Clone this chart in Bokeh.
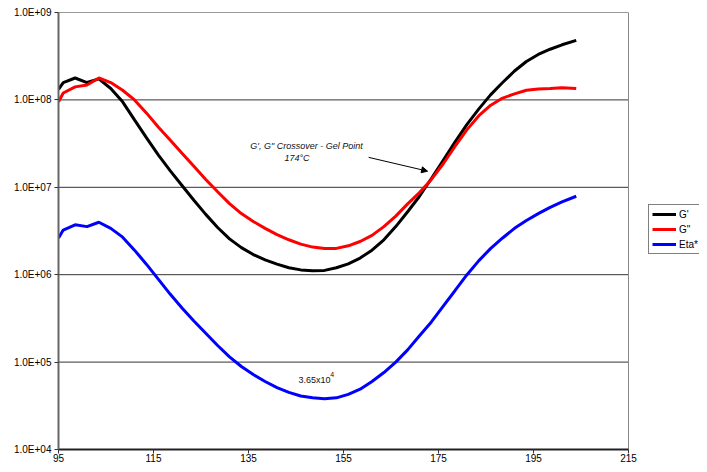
from bokeh.plotting import figure
from bokeh.models import (FixedTicker, CustomJSTickFormatter, Legend, LegendItem,
                          Label, Arrow, NormalHead, ColumnDataSource)
from bokeh.embed import file_html
from bokeh.resources import INLINE

temperature = [95, 96, 98.5, 101, 103.5, 106, 108.5, 111, 113.5, 116, 118.5, 121, 123.5,
               126, 128.5, 131, 133.5, 136, 138.5, 141, 143.5, 146, 148.5, 151, 153.5,
               156, 158.5, 161, 163.5, 166, 168.5, 171, 173.5, 176, 178.5, 181, 183.5,
               186, 188.5, 191, 193.5, 196, 198.5, 201, 204]

g_storage = [1.32e8, 1.58e8, 1.78e8, 1.58e8, 1.74e8, 1.35e8, 9.5e7, 5.9e7, 3.7e7, 2.35e7,
             1.55e7, 1.05e7, 7.1e6, 4.9e6, 3.47e6, 2.57e6, 2.04e6, 1.70e6, 1.48e6, 1.32e6,
             1.20e6, 1.135e6, 1.11e6, 1.12e6, 1.20e6, 1.33e6, 1.55e6, 1.91e6, 2.51e6,
             3.55e6, 5.25e6, 7.9e6, 1.26e7, 2.04e7, 3.31e7, 5.25e7, 7.9e7, 1.15e8, 1.58e8,
             2.14e8, 2.75e8, 3.31e8, 3.80e8, 4.27e8, 4.79e8]

g_loss = [9.5e7, 1.20e8, 1.41e8, 1.48e8, 1.78e8, 1.58e8, 1.29e8, 1.0e8, 7.1e7, 4.9e7,
          3.47e7, 2.45e7, 1.74e7, 1.23e7, 8.9e6, 6.5e6, 5.0e6, 4.07e6, 3.39e6, 2.88e6,
          2.51e6, 2.24e6, 2.07e6, 2.0e6, 2.0e6, 2.14e6, 2.40e6, 2.82e6, 3.55e6, 4.68e6,
          6.46e6, 8.7e6, 1.23e7, 1.86e7, 2.95e7, 4.57e7, 6.6e7, 8.7e7, 1.05e8, 1.17e8,
          1.29e8, 1.33e8, 1.35e8, 1.38e8, 1.35e8]

eta_star = [2.63e6, 3.24e6, 3.72e6, 3.55e6, 3.98e6, 3.39e6, 2.69e6, 1.91e6, 1.32e6, 8.9e5,
            6.0e5, 4.17e5, 2.95e5, 2.14e5, 1.55e5, 1.15e5, 8.9e4, 7.2e4, 6.0e4, 5.1e4,
            4.5e4, 4.1e4, 3.9e4, 3.8e4, 3.9e4, 4.27e4, 4.9e4, 6.0e4, 7.6e4, 1.0e5,
            1.38e5, 2.0e5, 2.88e5, 4.37e5, 6.6e5, 1.0e6, 1.45e6, 2.0e6, 2.63e6, 3.39e6,
            4.17e6, 5.0e6, 5.9e6, 6.8e6, 7.9e6]

series_names = ["G'", 'G"', "Eta*"]
series_colors = ["black", "#FF0000", "#0000FF"]
x_ticks = [95, 115, 135, 155, 175, 195, 215]
y_ticks = [1e4, 1e5, 1e6, 1e7, 1e8, 1e9]
x_min, x_max = 95, 215
y_min, y_max = 1e4, 1e9

crossover_text = "G', G\" Crossover - Gel Point"
crossover_temp_text = "174°C"
crossover_text_pos = (147.2, 3.0e7)
crossover_temp_pos = (145.2, 2.15e7)
arrow_start = (160.3, 2.2e7)
arrow_end = (172.7, 1.53e7)
min_text = "3.65x10"
min_exp_text = "4"
min_text_pos = (145.5, 6.3e4)
min_exp_pos = (152.2, 7.2e4)

FONT = "Liberation Sans"
W, H = 699, 464
LEFT, TOP, BOTTOM = 58, 12, 14
PX_PER_UNIT = 4.75
# the frame runs past 215 so the legend can sit at its right; the plot box itself is drawn to 215
x_view_end = x_min + (W - LEFT) / PX_PER_UNIT

p = figure(width=W, height=H, y_axis_type="log", x_range=(x_min, x_view_end), y_range=(y_min, y_max),
           output_backend="svg", toolbar_location=None,
           min_border_left=LEFT, min_border_top=TOP, min_border_bottom=BOTTOM, min_border_right=0)

# plot-area grid lines and right border, limited to the 95-215 box
p.segment(x0=[x_min] * len(y_ticks), x1=[x_max] * len(y_ticks), y0=y_ticks, y1=y_ticks,
          line_color="#333333", line_width=1)
p.segment(x0=[x_max], x1=[x_max], y0=[y_min], y1=[y_max], line_color="#888888", line_width=1)

src = ColumnDataSource(dict(t=temperature, g1=g_storage, g2=g_loss, eta=eta_star))
r1 = p.line("t", "g1", source=src, line_color=series_colors[0], line_width=3)
r2 = p.line("t", "g2", source=src, line_color=series_colors[1], line_width=3)
r3 = p.line("t", "eta", source=src, line_color=series_colors[2], line_width=3)

p.xaxis.ticker = FixedTicker(ticks=x_ticks)
p.xaxis.bounds = (x_min, x_max)
p.yaxis.ticker = FixedTicker(ticks=y_ticks)
p.yaxis.formatter = CustomJSTickFormatter(code="""
const e = Math.round(Math.log10(tick));
return "1.0E" + (e < 0 ? "-" : "+") + String(Math.abs(e)).padStart(2, "0");
""")
for ax in (p.xaxis, p.yaxis):
    ax.major_label_text_font = FONT
    ax.major_label_text_font_size = "10px"
    ax.major_label_text_color = "black"
    ax.major_tick_in = 0
    ax.major_tick_out = 4
    ax.minor_tick_line_color = None
    ax.major_tick_line_color = "#333333"
p.yaxis.axis_line_color = "#666666"
p.yaxis.axis_line_width = 2
p.xaxis.axis_line_color = "#222222"
p.xaxis.axis_line_width = 2
p.yaxis.major_label_standoff = 3
p.xaxis.major_label_standoff = 0

p.xgrid.grid_line_color = None
p.ygrid.grid_line_color = None
p.outline_line_color = None
p.background_fill_color = "white"
p.border_fill_color = "white"

legend = Legend(items=[LegendItem(label=series_names[0], renderers=[r1]),
                       LegendItem(label=series_names[1], renderers=[r2]),
                       LegendItem(label=series_names[2], renderers=[r3])],
                location=(590, 195))
legend.label_text_font = FONT
legend.label_text_font_size = "10px"
legend.label_text_color = "black"
legend.glyph_width = 24
legend.glyph_height = 12
legend.label_standoff = 3
legend.label_height = 12
legend.spacing = 3
legend.padding = 3
legend.margin = 0
legend.border_line_color = "black"
legend.border_line_width = 1
legend.background_fill_alpha = 1
p.add_layout(legend, "center")

common = dict(text_font=FONT, text_font_style="italic", text_font_size="9px",
              text_color="#111111", text_align="center", text_baseline="middle")
p.add_layout(Label(x=crossover_text_pos[0], y=crossover_text_pos[1], text=crossover_text, **common))
p.add_layout(Label(x=crossover_temp_pos[0], y=crossover_temp_pos[1], text=crossover_temp_text, **common))
p.add_layout(Arrow(end=NormalHead(size=6, fill_color="black", line_color="black"),
                   x_start=arrow_start[0], y_start=arrow_start[1],
                   x_end=arrow_end[0], y_end=arrow_end[1], line_width=1, line_color="black"))
p.add_layout(Label(x=min_text_pos[0], y=min_text_pos[1], text=min_text, text_font=FONT,
                   text_font_size="9px", text_color="#111111", text_align="left", text_baseline="middle"))
p.add_layout(Label(x=min_exp_pos[0], y=min_exp_pos[1], text=min_exp_text, text_font=FONT,
                   text_font_size="7px", text_color="#111111", text_align="left", text_baseline="middle"))

open("out.html", "w").write(file_html(p, INLINE))
